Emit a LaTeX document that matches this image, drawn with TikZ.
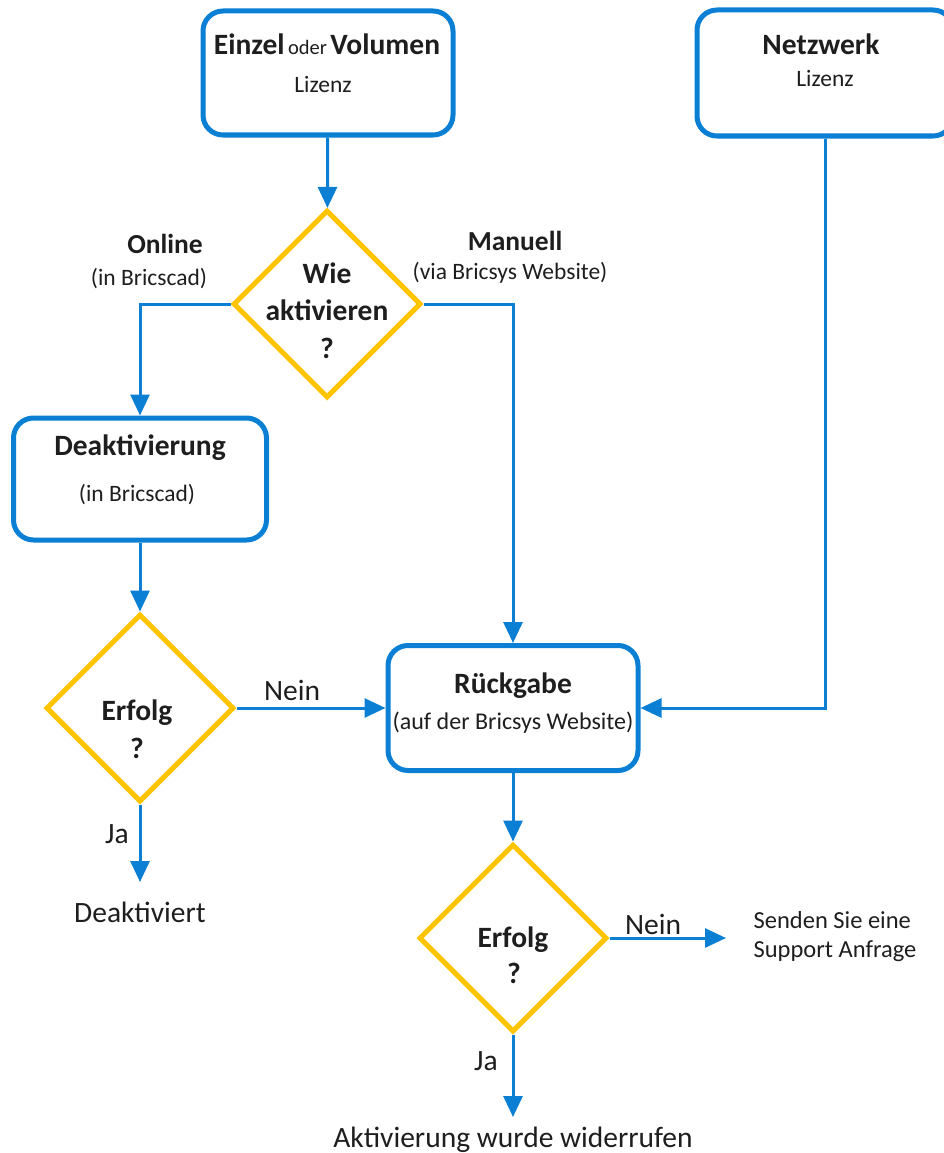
\documentclass[tikz,border=0pt]{standalone}
\usepackage{fontspec}
\setmainfont{Carlito}
\usetikzlibrary{shapes.geometric,arrows.meta}
\definecolor{cblue}{HTML}{0A7FD4}
\definecolor{cgold}{HTML}{FFC400}
\definecolor{ctext}{HTML}{1E1E1E}
\tikzset{
  box/.style={draw=cblue, line width=5pt, rounded corners=20pt, minimum width=250pt, minimum height=124pt, inner sep=0pt, fill=white},
  dia/.style={draw=cgold, line width=5pt, diamond, aspect=1, minimum width=188pt, minimum height=188pt, inner sep=0pt},
  conn/.style={draw=cblue, line width=3pt, -{Triangle[length=21pt,width=19pt]}},
  tbold/.style={font=\fontsize{29.5}{34}\selectfont\bfseries, text=ctext, inner sep=0pt},
  tsmall/.style={font=\fontsize{23.5}{28}\selectfont, text=ctext, inner sep=0pt},
  tlab/.style={font=\fontsize{29.5}{34}\selectfont, text=ctext, inner sep=0pt},
}
\begin{document}
\begin{tikzpicture}[x=1pt,y=-1pt]
\useasboundingbox (0,0) rectangle (944,1153);
% boxes
\node[box] (b1) at (328,73) {};
\node[box, minimum width=256pt, minimum height=126pt] (b2) at (825,73) {};
\node[box, minimum width=253pt, minimum height=122pt] (b3) at (140,479) {};
\node[box, minimum width=250pt, minimum height=125pt] (b4) at (513,708) {};
% diamonds
\node[dia] (d1) at (327,304) {};
\node[dia] (d2) at (140,708) {};
\node[dia] (d3) at (513,938) {};
% box texts
\node[tbold] (b1a) at (327,44) {Einzel{\fontsize{20.5}{24}\selectfont\mdseries\,oder\,}Volumen};
\node[tsmall] (b1b) at (323,84) {Lizenz};
\node[tbold] (b2a) at (821,44) {Netzwerk};
\node[tsmall] (b2b) at (825,78) {Lizenz};
\node[tbold] (b3a) at (140,448) {Deaktivierung};
\node[tsmall] (b3b) at (137,495) {(in Bricscad)};
\node[tbold] (b4a) at (513,686) {Rückgabe};
\node[tsmall, font=\fontsize{24}{28}\selectfont] (b4b) at (513,723) {(auf der Bricsys Website)};
% diamond texts
\node[tbold] (d1a) at (327,273) {Wie};
\node[tbold] (d1b) at (327,310) {aktivieren};
\node[tbold] (d1c) at (327,348) {?};
\node[tbold] (d2a) at (137,713) {Erfolg};
\node[tbold] (d2b) at (137,748) {?};
\node[tbold] (d3a) at (513,940) {Erfolg};
\node[tbold] (d3b) at (514,973) {?};
% branch labels
\node[tbold, font=\fontsize{27.5}{32}\selectfont\bfseries] (on1) at (165,244) {Online};
\node[tsmall] (on2) at (149,279) {(in Bricscad)};
\node[tbold, font=\fontsize{27.5}{32}\selectfont\bfseries] (ma1) at (515,241) {Manuell};
\node[tsmall] (ma2) at (510,273) {(via Bricsys Website)};
% end points
\coordinate (e1) at (140,882);
\coordinate (e2) at (726,938);
\coordinate (e3) at (513,1117);
% connectors
\draw[conn] (b1) -- (d1);
\draw[conn] (d1.west) -| (b3.north);
\draw[conn] (d1.east) -| (b4.north);
\draw[conn] (b2.south) |- (b4.east);
\draw[conn] (b3) -- (d2);
\draw[conn] (d2.east) -- (b4.west);
\draw[conn] (d2.south) -- (e1);
\draw[conn] (b4) -- (d3);
\draw[conn] (d3.east) -- (e2);
\draw[conn] (d3.south) -- (e3);
% edge labels
\node[tlab] (n1) at (292,690) {Nein};
\node[tlab] (j1) at (117,834) {Ja};
\node[tlab] (n2) at (653,924) {Nein};
\node[tlab] (j2) at (486,1061) {Ja};
\node[tlab] (t1) at (140,912) {Deaktiviert};
\node[tsmall, font=\fontsize{24.5}{29}\selectfont, align=left] (t2) at (835,937) {Senden Sie eine\\Support Anfrage};
\node[tlab] (t3) at (513,1140) {Aktivierung wurde widerrufen};
\end{tikzpicture}
\end{document}
